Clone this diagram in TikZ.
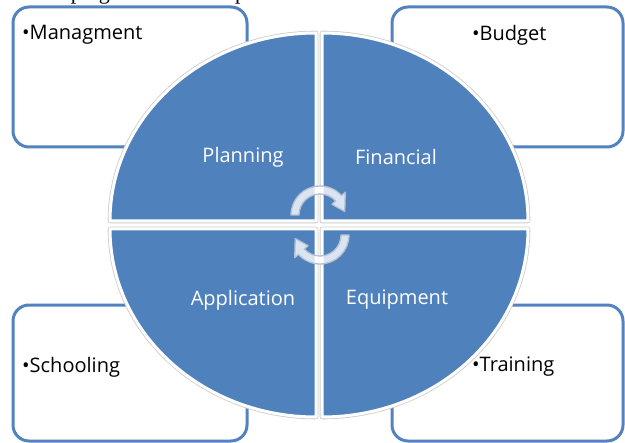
\documentclass[tikz,border=0pt]{standalone}
\usepackage{fontspec}
\newfontfamily\lblfont{Open Sans}
\newfontfamily\serfont{Liberation Serif}
\definecolor{qblue}{HTML}{4F81BD}
\definecolor{boxblue}{HTML}{5283C0}
\definecolor{arrline}{HTML}{B4C0D2}
\begin{document}
\begin{tikzpicture}[x=1bp,y=-1bp,
  infobox/.style={draw=boxblue, line width=3bp, fill=white, rounded corners=16bp},
  quad/.style={fill=qblue, draw=white, line width=3bp, line join=round},
  halo/.style={draw=gray!40, line width=4.6bp, line join=round},
  itemtext/.style={font=\lblfont\fontsize{20bp}{23bp}\selectfont, text=black, inner sep=0pt, anchor=west},
  quadtext/.style={font=\lblfont\fontsize{20bp}{23bp}\selectfont, text=white, inner sep=0pt},
  cyc/.style={fill=white, fill opacity=0.8, draw=arrline, line width=1.3bp, line join=round}]
\useasboundingbox (0,0) rectangle (625,443);
\begin{scope}
\clip (0,0) rectangle (625,443);
\node[font=\serfont\fontsize{22bp}{24bp}\selectfont, anchor=base west, inner sep=0pt] (cut) at (12,0) {developing total and computer};
% boxes
\draw[infobox] (13,7) rectangle (247,147);
\draw[infobox] (392,7) rectangle (623,147);
\draw[infobox] (13,305) rectangle (247,441);
\draw[infobox] (392,305) rectangle (623,441);
\end{scope}
\node[itemtext] (m) at (22,35) {•Managment};
\node[itemtext] (b) at (472,35) {•Budget};
\node[itemtext] (s) at (22,367) {•Schooling};
\node[itemtext] (t) at (472,367) {•Training};
% quadrant halo
\path[halo] (316,221) -- (110,221) arc[start angle=180, end angle=270, x radius=206, y radius=188] -- cycle;
\path[halo] (322,221) -- (322,33) arc[start angle=270, end angle=360, x radius=206, y radius=188] -- cycle;
\path[halo] (322,229) -- (528,229) arc[start angle=0, end angle=90, x radius=206, y radius=188] -- cycle;
\path[halo] (316,229) -- (316,417) arc[start angle=90, end angle=180, x radius=206, y radius=188] -- cycle;
% quadrants
\path[quad] (316,221) -- (110,221) arc[start angle=180, end angle=270, x radius=206, y radius=188] -- cycle;
\path[quad] (322,221) -- (322,33) arc[start angle=270, end angle=360, x radius=206, y radius=188] -- cycle;
\path[quad] (322,229) -- (528,229) arc[start angle=0, end angle=90, x radius=206, y radius=188] -- cycle;
\path[quad] (316,229) -- (316,417) arc[start angle=90, end angle=180, x radius=206, y radius=188] -- cycle;
\node[quadtext] (pl) at (243,157) {Planning};
\node[quadtext] (fi) at (396,157) {Financial};
\node[quadtext] (ap) at (243,300) {Application};
\node[quadtext] (eq) at (397,300) {Equipment};
% cycle arrows
\begin{scope}[shift={(320,215)}]
\path[cyc] (180:21) -- (180:29) arc[start angle=180, end angle=318, radius=29]
  -- (318:34) -- (352:25) -- (318:16) -- (318:21)
  arc[start angle=318, end angle=180, radius=21] -- cycle;
\end{scope}
\begin{scope}[shift={(320,235)}]
\path[cyc] (0:21) -- (0:29) arc[start angle=0, end angle=138, radius=29]
  -- (138:34) -- (172:25) -- (138:16) -- (138:21)
  arc[start angle=138, end angle=0, radius=21] -- cycle;
\end{scope}
\end{tikzpicture}
\end{document}
